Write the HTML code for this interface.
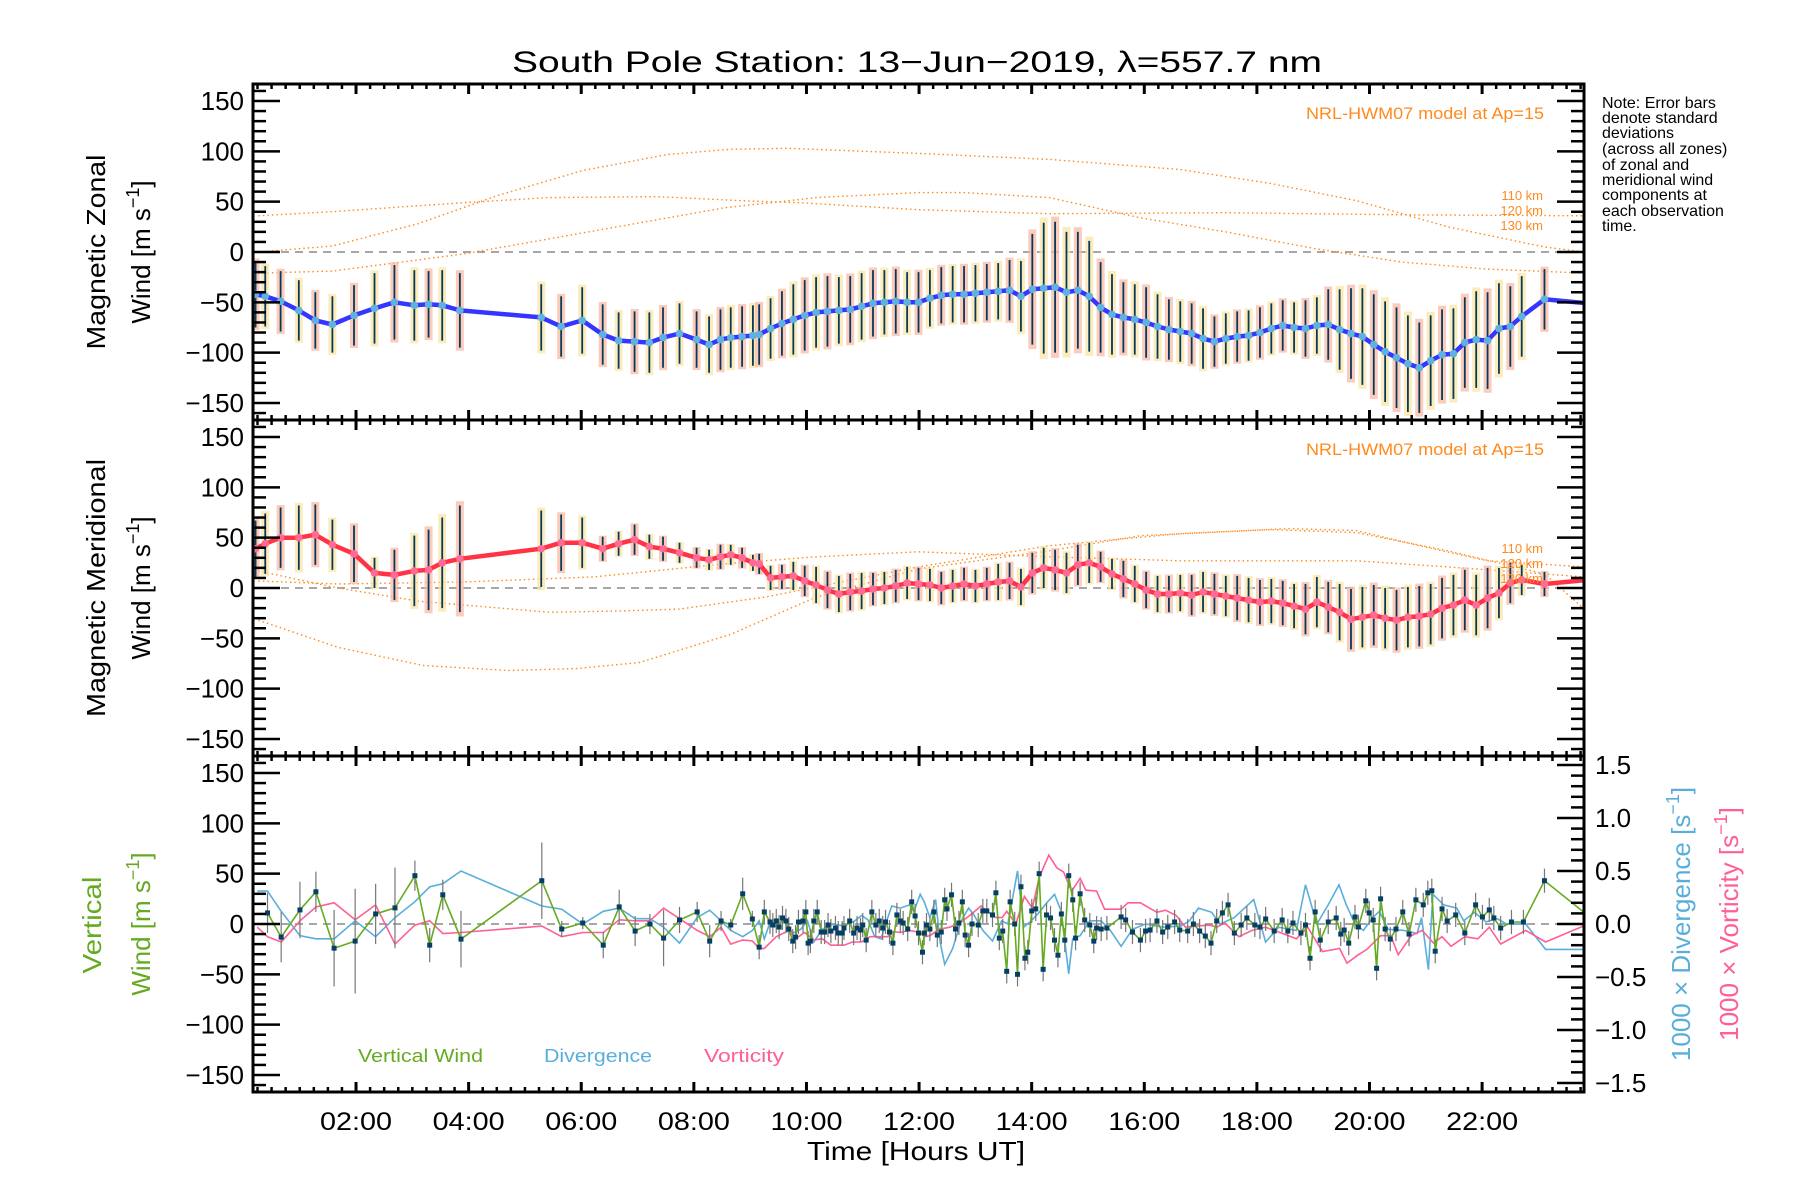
<!DOCTYPE html>
<html><head><meta charset="utf-8"><title>South Pole Station winds</title>
<style>
html,body{margin:0;padding:0;background:#fff;}
svg{display:block;font-family:"Liberation Sans",sans-serif;}
</style></head>
<body>
<svg id="chart" width="1800" height="1200" viewBox="0 0 1800 1200" xmlns="http://www.w3.org/2000/svg">
<defs><clipPath id="plotclip"><rect x="253" y="84" width="1331" height="1008"/></clipPath></defs>
<rect width="1800" height="1200" fill="#fff"/>
<g id="marks" clip-path="url(#plotclip)"></g>
<g id="axes"></g>
<text x="917" y="72" font-size="30" text-anchor="middle" textLength="810" lengthAdjust="spacingAndGlyphs">South Pole Station: 13−Jun−2019, λ=557.7 nm</text>
<text x="916" y="1160" font-size="26" text-anchor="middle" textLength="218" lengthAdjust="spacingAndGlyphs">Time [Hours UT]</text>
<g font-size="16">
<text x="1602" y="108">Note: Error bars</text>
<text x="1602" y="123">denote standard</text>
<text x="1602" y="138">deviations</text>
<text x="1602" y="154">(across all zones)</text>
<text x="1602" y="170">of zonal and</text>
<text x="1602" y="185">meridional wind</text>
<text x="1602" y="200">components at</text>
<text x="1602" y="216">each observation</text>
<text x="1602" y="231">time.</text>
</g>
<text x="1544" y="119" font-size="17" fill="#ff8a1e" text-anchor="end" textLength="238" lengthAdjust="spacingAndGlyphs">NRL-HWM07 model at Ap=15</text>
<text x="1544" y="455" font-size="17" fill="#ff8a1e" text-anchor="end" textLength="238" lengthAdjust="spacingAndGlyphs">NRL-HWM07 model at Ap=15</text>
<g font-size="13" fill="#ff8a1e" text-anchor="end">
<text x="1543" y="200">110 km</text><text x="1543" y="215">120 km</text><text x="1543" y="230">130 km</text>
</g>
<g font-size="13" fill="#ff8a1e" text-anchor="end">
<text x="1543" y="553">110 km</text><text x="1543" y="568">120 km</text><text x="1543" y="583">130 km</text>
</g>
<g font-size="18">
<text x="358" y="1062" fill="#66aa22" textLength="125" lengthAdjust="spacingAndGlyphs">Vertical Wind</text>
<text x="544" y="1062" fill="#5aaedc" textLength="108" lengthAdjust="spacingAndGlyphs">Divergence</text>
<text x="704" y="1062" fill="#ff5f92" textLength="80" lengthAdjust="spacingAndGlyphs">Vorticity</text>
</g>
<g font-size="26">
<text transform="translate(105,252) rotate(-90)" text-anchor="middle" textLength="195" lengthAdjust="spacingAndGlyphs">Magnetic Zonal</text>
<text transform="translate(150,252) rotate(-90)" text-anchor="middle">Wind [m s<tspan font-size="18" dy="-11">−1</tspan><tspan dy="11">]</tspan></text>
<text transform="translate(105,588) rotate(-90)" text-anchor="middle" textLength="258" lengthAdjust="spacingAndGlyphs">Magnetic Meridional</text>
<text transform="translate(150,588) rotate(-90)" text-anchor="middle">Wind [m s<tspan font-size="18" dy="-11">−1</tspan><tspan dy="11">]</tspan></text>
<text transform="translate(101,925) rotate(-90)" text-anchor="middle" fill="#66aa22" textLength="97" lengthAdjust="spacingAndGlyphs">Vertical</text>
<text transform="translate(150,924) rotate(-90)" text-anchor="middle" fill="#66aa22">Wind [m s<tspan font-size="18" dy="-11">−1</tspan><tspan dy="11">]</tspan></text>
<text transform="translate(1690,924) rotate(-90)" text-anchor="middle" fill="#5aaedc">1000 × Divergence [s<tspan font-size="18" dy="-11">−1</tspan><tspan dy="11">]</tspan></text>
<text transform="translate(1738,924) rotate(-90)" text-anchor="middle" fill="#ff5f92">1000 × Vorticity [s<tspan font-size="18" dy="-11">−1</tspan><tspan dy="11">]</tspan></text>
</g>
</svg>
<script>
// ---------- data (times in hours UT) ----------
const calib = a => a.map(h => 0.064 + 1.0107 * h);
const windTime = calib([0.15,0.32,0.59,0.91,1.2,1.5,1.88,2.24,2.59,2.94,3.19,3.43,3.74,5.17,5.52,5.89,6.25,6.53,6.81,7.07,7.31,7.6,7.9,8.12,8.32,8.5,8.7,8.89,
9.0,9.2,9.4,9.6,9.8,10.0,10.2,10.4,10.6,10.8,11.0,11.2,11.4,11.6,11.8,12.0,12.2,12.4,12.6,12.8,13.0,13.2,13.4,13.6,13.8,14.0,14.2,14.4,14.6,14.8,
15.0,15.2,15.4,15.6,15.8,16.0,16.2,16.4,16.6,16.8,17.0,17.2,17.4,17.6,17.8,18.0,18.2,18.4,18.6,18.8,19.0,19.2,19.4,19.6,19.8,20.0,20.2,20.4,20.6,20.8,
21.0,21.2,21.4,21.6,21.8,22.0,22.2,22.4,22.8,23.75]);
const zonalVal = [-42,-44,-49,-58,-68,-72,-63,-56,-50,-53,-52,-53,-58,-65,-74,-68,-82,-88,-89,-90,-85,-81,-87,-92,-87,-85,-84,-83,
-82,-76,-71,-67,-63,-60,-59,-58,-57,-54,-51,-50,-49,-50,-50,-46,-43,-42,-42,-41,-40,-39,-38,-44,-37,-36,-35,-40,-38,-44,
-55,-62,-65,-67,-70,-74,-77,-79,-81,-86,-89,-86,-84,-83,-80,-76,-73,-75,-76,-73,-72,-77,-81,-84,-92,-99,-105,-111,-115,-108,
-102,-101,-90,-87,-88,-76,-74,-64,-47,-52];
const zonalErr = [33,30,30,30,28,28,30,35,37,35,33,35,37,33,30,33,30,28,30,30,30,30,28,28,30,30,30,30,
30,30,32,35,35,35,35,33,33,33,33,32,32,30,30,28,28,28,28,28,28,28,30,35,55,65,65,60,58,55,
45,40,35,35,35,32,30,30,30,30,25,25,25,25,25,25,25,25,28,28,35,40,45,48,50,50,50,48,45,45,
45,45,45,48,48,45,40,40,30,0];
const meridVal = [39,44,50,50,53,43,34,15,13,17,18,25,29,39,45,45,39,44,48,41,39,35,30,28,31,33,30,25,
24,10,11,12,7,3,-2,-6,-4,-3,-1,0,2,5,4,3,0,2,4,2,4,6,7,1,15,20,18,15,23,25,
21,14,9,4,-2,-6,-6,-5,-7,-4,-6,-8,-10,-12,-14,-13,-15,-18,-21,-14,-19,-24,-31,-29,-27,-30,-32,-29,-28,-26,
-20,-17,-12,-17,-10,-5,5,8,4,9];
const meridErr = [28,30,30,32,30,25,28,15,25,35,40,45,53,38,28,25,12,12,15,12,12,10,10,10,12,10,10,8,
10,12,12,14,15,18,18,18,18,18,16,16,16,16,16,16,16,16,16,16,16,18,18,18,20,20,20,20,20,20,
15,15,18,18,18,18,18,18,20,20,20,20,22,22,22,22,22,22,25,25,25,28,30,30,30,30,30,30,30,30,
30,30,30,30,30,25,20,15,12,0];

// HWM07 model curves (dotted)
const hwmZonalTime = calib([0.2,1.5,3.0,4.4,5.9,7.4,8.5,9.5,11.8,14.1,16.4,18.0,19.5,21.1,22.8,23.5]);
const hwmZonalA = [0,6,28,56,81,97,102,103,98,92,82,68,51,25,5,0];
const hwmZonalBTime = calib([0.2,1.5,3.8,5.3,7.2,8.7,9.7,11.8,14.1,17.2,20.3,23.5]);
const hwmZonalB = [36,40,49,54,55,51,49,42,38,39,37,36];
const hwmZonalCTime = calib([0.2,1.5,3.8,6.1,8.4,10.0,11.8,12.6,14.1,15.7,17.2,18.8,20.3,21.8,23.5]);
const hwmZonalC = [-21,-19,-2,21,44,54,59,59,54,34,20,3,-10,-17,-21];
const hwmMeridATime = calib([0.2,1.6,3.1,4.6,5.8,6.9,8.5,10.0,11.8,14.1,15.7,18.0,19.5,21.1,22.8,23.5]);
const hwmMeridA = [-32,-59,-77,-82,-80,-74,-46,-9,19,37,52,58,55,37,14,-21];
const hwmMeridBTime = calib([0.2,1.5,3.0,5.3,6.4,7.6,9.1,10.0,11.8,14.1,16.4,18.3,19.5,20.6,21.8,23.5]);
const hwmMeridB = [17,1,-13,-24,-23,-21,-9,1,21,42,54,59,57,42,27,21];
const hwmMeridCTime = calib([0.2,1.6,3.8,6.1,8.4,10.0,11.8,14.1,16.4,19.5,21.1,23.5]);
const hwmMeridC = [7,4,6,11,24,31,36,31,27,27,21,11];

// Vertical wind (m/s)
const vwTime = calib([0.36,0.6,0.93,1.21,1.53,1.9,2.26,2.6,2.95,3.21,3.44,3.76,5.18,5.53,5.9,6.26,6.54,6.82,7.08,7.32,7.6,7.91,8.13,8.33,8.5,8.71,8.88,
9.0,9.09,9.19,9.24,9.3,9.35,9.41,9.47,9.52,9.59,9.64,9.69,9.77,9.82,9.86,9.9,9.96,10.02,10.09,10.15,10.21,10.26,10.34,10.39,10.46,10.49,10.59,10.66,10.72,10.78,10.82,10.88,10.98,
11.05,11.11,11.17,11.22,11.29,11.35,11.42,11.48,11.53,11.61,11.68,11.74,11.8,11.87,11.9,11.94,12.0,12.07,12.13,12.2,12.26,12.3,12.38,12.45,12.51,12.57,12.62,12.68,12.74,12.85,12.93,
13.0,13.1,13.16,13.22,13.28,13.35,13.41,13.49,13.54,13.6,13.67,13.72,13.79,13.86,13.92,13.99,14.05,14.12,14.19,14.25,14.31,14.37,14.44,14.51,14.56,14.64,14.72,14.81,14.88,14.93,
15.01,15.11,15.36,15.44,15.56,15.7,15.79,15.87,15.99,16.09,16.18,16.3,16.39,16.53,16.63,16.74,16.84,16.94,17.04,17.14,17.24,17.35,17.47,17.57,17.71,17.8,17.9,
18.05,18.19,18.29,18.38,18.52,18.6,18.68,18.77,18.86,19.0,19.14,19.22,19.28,19.36,19.47,19.53,19.66,19.72,19.79,19.85,19.92,20.0,20.09,20.19,20.31,20.42,20.54,20.67,20.75,20.82,20.88,
21.0,21.09,21.24,21.4,21.59,21.71,21.83,21.91,22.03,22.22,22.43,22.8,23.75]);
const vwVal = [11,-13,14,32,-24,-17,10,16,48,-21,29,-15,43,-5,1,-21,17,-7,0,-14,4,12,-17,3,-1,30,5,
-23,12,2,-1,3,-3,6,3,-5,-17,-13,2,3,12,-19,-17,3,12,-8,-8,-1,-7,-4,-9,-9,-4,3,-9,-4,-6,-1,-16,12,
-1,3,-4,2,-8,-19,9,3,1,-5,22,8,-9,-28,-9,-1,-5,12,-11,-8,24,15,29,-5,1,22,-11,-21,0,-1,13,
13,9,31,-14,-7,-47,22,0,-50,37,-34,-28,13,15,50,-45,9,6,-16,-31,10,-16,48,24,-14,30,4,-1,-17,-4,
-5,-4,7,4,-8,-16,-7,-6,3,-8,-3,2,-6,-7,0,-7,-12,-19,3,11,19,-9,-1,6,-1,-3,5,
-7,4,-7,1,-9,-1,-34,12,-16,2,6,-10,-6,-19,7,-3,23,11,4,-44,25,-5,-15,-5,12,-10,24,19,31,33,-27,
15,3,9,-9,19,7,14,6,-4,2,2,43,0];
const vwErr = [20,25,28,20,38,52,30,40,15,17,15,28,38,8,6,13,17,15,10,28,13,10,16,10,6,16,8];

// Divergence and vorticity (1000 x s^-1)
const divTime = calib([0.18,0.36,0.6,0.93,1.21,1.53,1.9,2.26,2.6,2.95,3.21,3.44,3.76,5.18,5.53,5.9,6.26,6.54,6.82,7.08,7.32,7.6,7.91,8.13,8.33,8.5,8.71,8.88,
9.0,9.09,9.2,9.3,9.46,9.58,9.73,9.85,9.96,10.11,10.3,10.49,10.68,10.8,10.91,11.03,11.14,11.26,11.33,11.48,11.64,11.72,11.83,
11.9,12.0,12.1,12.18,12.26,12.4,12.55,12.68,12.77,12.93,13.1,13.26,13.37,13.54,13.65,13.78,13.92,14.07,14.19,14.31,14.44,14.51,14.64,14.81,
15.01,15.17,15.36,15.56,15.79,16.1,16.41,16.56,16.72,16.95,17.1,17.35,17.69,17.9,18.13,18.44,18.6,18.8,19.0,19.19,19.31,19.47,19.62,19.78,19.9,
20.05,20.33,20.56,20.64,20.76,20.84,21.03,21.26,21.38,21.57,21.77,21.97,22.13,22.47,22.82,23.48,23.75]);
const divVal = [0.31,0.31,0.12,-0.11,-0.14,-0.14,0.03,-0.12,0.06,0.21,0.35,0.38,0.5,0.17,0.14,0,0.12,0.15,0.05,0.05,-0.03,-0.18,0.06,0.13,0.03,-0.06,-0.12,-0.06,
0.03,-0.14,0.03,-0.03,0.05,-0.09,-0.05,0.03,-0.17,-0.05,0,-0.02,0.03,0.08,0.04,-0.12,-0.14,0.06,0.17,0.15,0.18,0.12,0.28,
0.21,0.06,0.23,-0.17,-0.38,-0.23,0.03,0.15,0.09,-0.06,-0.16,0.03,0,0.5,-0.03,0.03,0.11,0.21,0.28,0.12,-0.47,-0.14,-0.11,0.03,
0.03,-0.06,-0.21,-0.05,0,-0.03,-0.02,0.03,0.15,0.11,0,0.06,0.23,-0.17,-0.03,-0.06,0.37,0,0.18,0.37,0.19,0,-0.06,0.06,0.12,
-0.05,-0.06,-0.09,0.06,-0.43,0.28,0.18,0.15,0.03,0.11,0.02,0.05,0,0,-0.24,-0.24,-0.24];
const vorTime = calib([0.18,0.36,0.6,0.93,1.21,1.53,1.9,2.26,2.6,2.95,3.21,3.44,3.76,5.18,5.53,5.9,6.26,6.54,6.82,7.08,7.32,7.6,7.91,8.13,8.33,8.5,8.71,8.88,
9.0,9.09,9.3,9.53,9.64,9.8,9.96,10.11,10.26,10.49,10.64,10.8,10.95,11.26,11.33,11.48,11.64,11.83,
11.9,12.0,12.16,12.35,12.55,12.7,12.9,13.0,13.16,13.27,13.35,13.51,13.66,13.8,13.92,14.09,14.23,14.35,14.49,14.64,14.74,14.93,
15.07,15.36,15.48,15.7,15.99,16.14,16.33,16.49,16.68,16.91,17.04,17.18,17.43,17.66,17.9,18.2,18.44,18.64,18.9,19.2,19.33,19.53,19.68,19.92,
20.1,20.23,20.46,20.65,20.85,21.0,21.16,21.4,21.63,21.83,22.03,22.47,22.82,23.48,23.75]);
const vorVal = [-0.03,-0.12,-0.17,0.03,0.16,0.2,0.04,0.18,-0.19,-0.01,0.03,-0.09,-0.08,-0.02,-0.12,-0.08,-0.08,0.04,0.03,0.03,0.15,0.05,-0.06,-0.12,-0.03,-0.19,-0.15,-0.16,
-0.23,-0.23,-0.12,-0.06,-0.14,-0.08,-0.15,-0.14,-0.2,-0.2,-0.17,-0.17,-0.12,-0.12,-0.07,-0.08,-0.06,-0.08,
-0.12,-0.11,-0.05,-0.03,0.02,0.08,0.17,0.12,0.06,0.06,0.12,0,0.26,0.15,0.44,0.65,0.53,0.49,0.31,0.43,0.32,0.31,
0.14,0.14,0.2,0.2,0.11,0.13,0.08,-0.03,-0.02,-0.01,-0.03,0.01,-0.12,-0.06,-0.03,-0.09,-0.14,-0.03,-0.26,-0.23,-0.37,-0.29,-0.24,-0.11,
-0.11,-0.29,-0.11,-0.06,-0.18,-0.12,-0.21,-0.12,-0.14,-0.03,-0.19,-0.06,-0.17,-0.02,0];

// tick labels
const yTickVals = [150,100,50,0,-50,-100,-150];
const yTickLabels = ["150","100","50","0","−50","−100","−150"];
const y2TickVals = [1.5,1.0,0.5,0,-0.5,-1.0,-1.5];
const y2TickLabels = ["1.5","1.0","0.5","0.0","−0.5","−1.0","−1.5"];
const xTickVals = [2,4,6,8,10,12,14,16,18,20,22];
const xTickLabels = ["02:00","04:00","06:00","08:00","10:00","12:00","14:00","16:00","18:00","20:00","22:00"];

// ---------- axes ----------
const NS = "http://www.w3.org/2000/svg";
const L = 253, R = 1584, H = 336, TOPS = [84, 420, 756];
const XMIN = 0.17, XMAX = 23.81, YR = 166.9, Y2R = 1.585;
const xs = h => L + (h - XMIN) / (XMAX - XMIN) * (R - L);
const ys = (v, p) => TOPS[p] + H / 2 - v * (H / 2) / YR;
const ys2 = v => TOPS[2] + H / 2 - v * (H / 2) / Y2R;
const marks = document.getElementById("marks");
const axes = document.getElementById("axes");
function mk(tag, attrs, parent) {
  const e = document.createElementNS(NS, tag);
  for (const k in attrs) e.setAttribute(k, attrs[k]);
  (parent || marks).appendChild(e);
  return e;
}
function grp(name) {
  const g = mk("g", {});
  
  
  return g;
}
function polyPts(ts, vs, f) { return ts.map((t, i) => xs(t).toFixed(1) + "," + f(vs[i]).toFixed(1)).join(" "); }

[0,1,2].forEach(p => {
  const z = mk("line", {x1: L, x2: R, y1: ys(0, p), y2: ys(0, p), stroke: "#888", "stroke-width": 1.5, "stroke-dasharray": "8,6"});
  
  
});

function hwm(ts, vs, p, name) {
  const c = mk("polyline", {points: polyPts(ts, vs, v => ys(v, p)), fill: "none", stroke: "#ff8a1e", "stroke-width": 1.4, "stroke-dasharray": "1.5,3"});
  
  
}
hwm(hwmZonalTime, hwmZonalA, 0, 'hwm-zonal-a');
hwm(hwmZonalBTime, hwmZonalB, 0, 'hwm-zonal-b');
hwm(hwmZonalCTime, hwmZonalC, 0, 'hwm-zonal-c');
hwm(hwmMeridATime, hwmMeridA, 1, 'hwm-meridional-a');
hwm(hwmMeridBTime, hwmMeridB, 1, 'hwm-meridional-b');
hwm(hwmMeridCTime, hwmMeridC, 1, 'hwm-meridional-c');

function windPanel(vals, errs, p, lineCol, dotCol, name) {
  const gb = grp(name + '-spread');
  vals.forEach((v, i) => {
    if (!errs[i]) return;
    const e = errs[i] * 1.08;
    const r = mk("rect", {x: xs(windTime[i]) - 4, width: 8, y: ys(v + e, p), height: ys(v - e, p) - ys(v + e, p), fill: i % 2 ? "#fbe6a6" : "#f9b9a6", opacity: 0.75}, gb);
    
    
  });
  const ge = grp(name + '-error-bars');
  vals.forEach((v, i) => {
    if (!errs[i]) return;
    const l = mk("line", {x1: xs(windTime[i]), x2: xs(windTime[i]), y1: ys(v + errs[i], p), y2: ys(v - errs[i], p), stroke: "#06395a", "stroke-width": 1.8}, ge);
    
    
  });
  const ln = mk("polyline", {points: polyPts(windTime, vals, v => ys(v, p)), fill: "none", stroke: lineCol, "stroke-width": 4.5, "stroke-linejoin": "round"});
  
  
  const gd = grp(name + '-points');
  vals.forEach((v, i) => {
    if (i === vals.length - 1) return;
    const c = mk("circle", {cx: xs(windTime[i]), cy: ys(v, p), r: 3.8, fill: dotCol}, gd);
    
    
  });
}
windPanel(zonalVal, zonalErr, 0, "#3535ff", "#5fb2e0", 'zonal-wind');
windPanel(meridVal, meridErr, 1, "#ff3344", "#ff6a96", 'meridional-wind');

const divLine = mk("polyline", {points: polyPts(divTime, divVal, ys2), fill: "none", stroke: "#5aaedc", "stroke-width": 1.6});


const vorLine = mk("polyline", {points: polyPts(vorTime, vorVal, ys2), fill: "none", stroke: "#ff5f92", "stroke-width": 1.6});


const gvwe = grp('vertical-wind-error-bars');
vwVal.forEach((v, i) => {
  const e = vwErr[i] ?? 12;
  const l = mk("line", {x1: xs(vwTime[i]), x2: xs(vwTime[i]), y1: ys(v + e, 2), y2: ys(v - e, 2), stroke: "#777", "stroke-width": 1.2}, gvwe);
  
  
});
const vwLine = mk("polyline", {points: polyPts(vwTime, vwVal, v => ys(v, 2)), fill: "none", stroke: "#66aa22", "stroke-width": 1.6});


const gvwp = grp('vertical-wind-points');
vwVal.forEach((v, i) => {
  if (i === vwVal.length - 1) return;
  const s = mk("rect", {x: xs(vwTime[i]) - 2.5, y: ys(v, 2) - 2.5, width: 5, height: 5, fill: "#063f66"}, gvwp);
  
  
});

function aline(x1, y1, x2, y2, w) { return mk("line", {x1, y1, x2, y2, stroke: "#000", "stroke-width": w}, axes); }
TOPS.forEach((top, p) => {
  const bot = top + H;
  const box = mk("rect", {x: L, y: top, width: R - L, height: H, fill: "none", stroke: "#000", "stroke-width": 3}, axes);
  
  
  for (let v = -160; v <= 160; v += 10) {
    const major = v % 50 === 0;
    const len = major ? 27 : 13;
    const y = ys(v, p);
    aline(L, y, L + len, y, 2.5);
    if (p < 2) aline(R, y, R - len, y, 2.5);
  }
  if (p === 2) {
    for (let k = -15; k <= 15; k++) {
      const v = k / 10, major = k % 5 === 0, y = ys2(v);
      aline(R, y, R - (major ? 27 : 13), y, 2.5);
    }
  }
  for (let q = 1; q <= 95; q++) {
    const h = q / 4;
    if (h < XMIN || h > XMAX) continue;
    const major = q % 8 === 0, len = major ? 10 : 5, x = xs(h);
    aline(x, top, x, top + len, major ? 3 : 2.5);
    aline(x, bot, x, bot - len, major ? 3 : 2.5);
  }
  yTickVals.forEach((v, i) => {
    const t = mk("text", {x: 244, y: ys(v, p) + 9, "font-size": 26, "text-anchor": "end"}, axes);
    t.textContent = yTickLabels[i];
    
    
  });
});
y2TickVals.forEach((v, i) => {
  const t = mk("text", {x: 1595, y: ys2(v) + 9, "font-size": 26}, axes);
  t.textContent = y2TickLabels[i];
  
  
});
xTickVals.forEach((h, i) => {
  const t = mk("text", {x: xs(h), y: 1130, "font-size": 25, "text-anchor": "middle", textLength: 72, lengthAdjust: "spacingAndGlyphs"}, axes);
  t.textContent = xTickLabels[i];
  
  
});
</script>
</body></html>
